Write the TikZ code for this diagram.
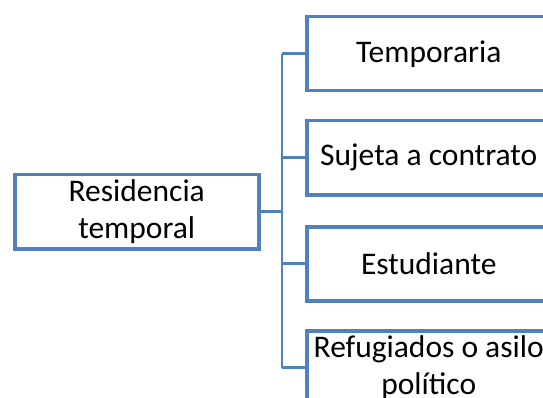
\documentclass[tikz,border=0pt]{standalone}
\usepackage{fontspec}
\setmainfont{Carlito}
\definecolor{boxblue}{RGB}{79,129,189}
\begin{document}
\begin{tikzpicture}[x=1pt,y=-1pt,
  box/.style={draw=boxblue,line width=3.5pt,fill=white,minimum width=244pt,minimum height=74pt,inner sep=0pt,align=center,font=\fontsize{31.5}{37}\selectfont,anchor=north west},
  conn/.style={draw=boxblue,line width=2.6pt}]
\useasboundingbox (0,0) rectangle (543,398);
\clip (0,0) rectangle (543,398);
\node[box] (root) at (13,173) {Residencia\\temporal};
\node[box] (a) at (305,15) {Temporaria};
\node[box] (b) at (305,119) {Sujeta a contrato};
\node[box] (c) at (305,225) {Estudiante};
\node[box] (d) at (305,329) {Refugiados o asilo\\político};
\coordinate (j) at (282,0);
\draw[conn] (root.east) -- (root.east -| j);
\draw[conn] (a.west -| j) -- (d.west -| j);
\foreach \n in {a,b,c,d} \draw[conn] (\n.west -| j) -- (\n.west);
\end{tikzpicture}
\end{document}
